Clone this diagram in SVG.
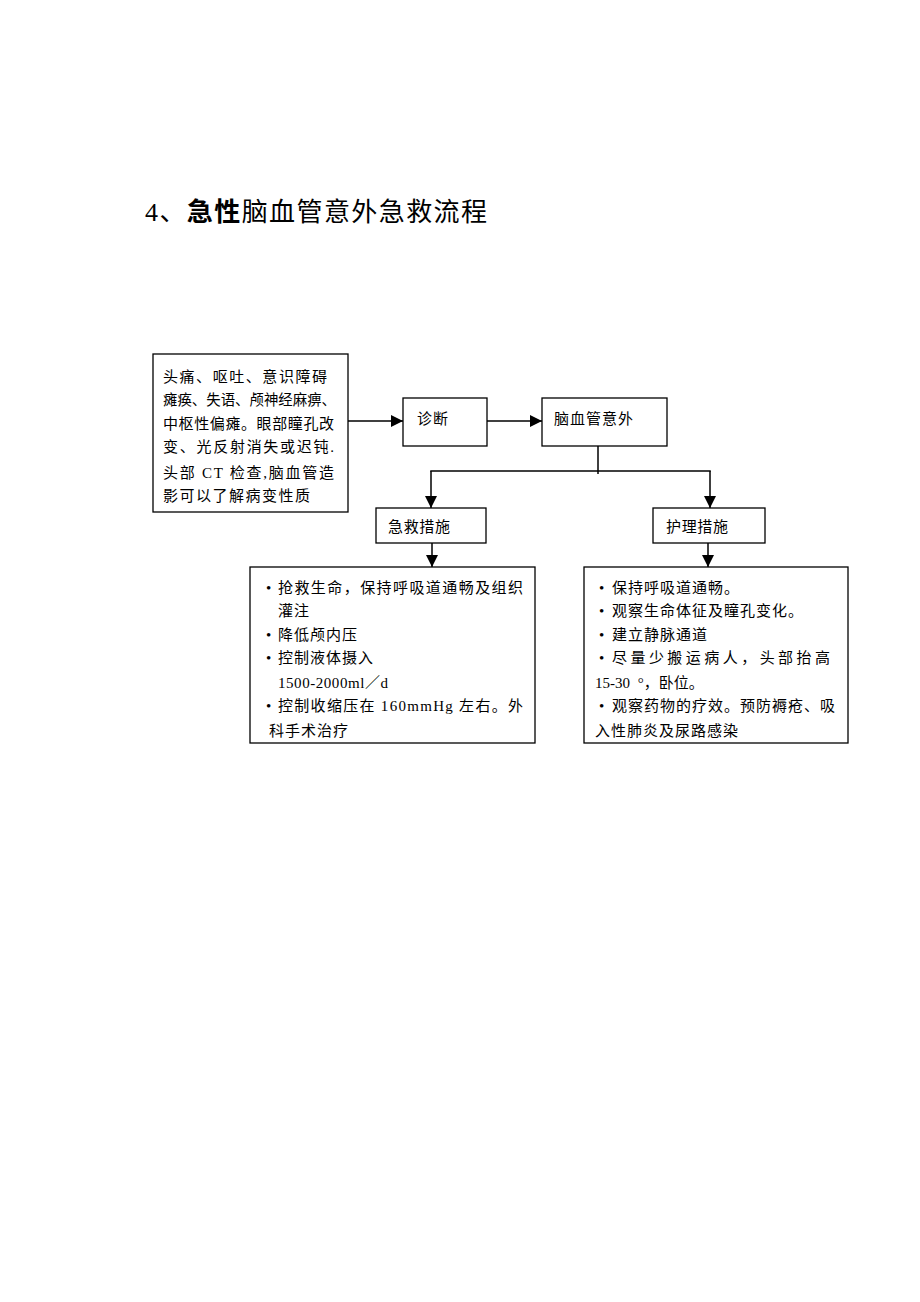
<svg xmlns="http://www.w3.org/2000/svg" width="920" height="1302" viewBox="0 0 920 1302">
<defs>
<style>
.box{fill:#fff;stroke:#000;stroke-width:1.3}
.t{font-family:"Liberation Serif","Noto Sans CJK SC",serif;font-size:15px;fill:#000}
.title{font-family:"Liberation Serif","Noto Sans CJK SC",serif;font-size:26px;fill:#000}
.c{fill:none;stroke:#000;stroke-width:1.5}
</style>
<marker id="ah" markerUnits="userSpaceOnUse" markerWidth="12" markerHeight="12" viewBox="0 0 10 10" refX="10" refY="5" orient="auto">
<path d="M0,0 L10,5 L0,10 Z" fill="#000"/>
</marker>
</defs>
<rect width="920" height="1302" fill="#fff"/>
<text class="title" x="145" y="221" textLength="342" lengthAdjust="spacing">4、<tspan font-weight="bold">急性</tspan>脑血管意外急救流程</text>

<g id="symptoms">
<rect class="box" x="153" y="354" width="195" height="158"/>
<text class="t" x="163" y="382" textLength="164" lengthAdjust="spacing">头痛、呕吐、意识障碍</text>
<text class="t" x="163" y="405" textLength="173" lengthAdjust="spacingAndGlyphs">瘫痪、失语、颅神经麻痹、</text>
<text class="t" x="163" y="429" textLength="171" lengthAdjust="spacing">中枢性偏瘫。眼部瞳孔改</text>
<text class="t" x="163" y="452" textLength="171" lengthAdjust="spacing">变、光反射消失或迟钝.</text>
<text class="t" x="163" y="478" textLength="171" lengthAdjust="spacing">头部 CT 检查,脑血管造</text>
<text class="t" x="163" y="501" textLength="147" lengthAdjust="spacing">影可以了解病变性质</text>
</g>

<g id="diagnosis">
<rect class="box" x="403" y="398" width="84" height="48"/>
<text class="t" x="417" y="424" letter-spacing="1">诊断</text>
</g>

<g id="cva">
<rect class="box" x="542" y="398" width="125" height="48"/>
<text class="t" x="554" y="424" textLength="79" lengthAdjust="spacing">脑血管意外</text>
</g>

<g id="emergency">
<rect class="box" x="376" y="508" width="110" height="35"/>
<text class="t" x="388" y="532" textLength="62" lengthAdjust="spacing">急救措施</text>
</g>

<g id="nursing">
<rect class="box" x="653" y="508" width="112" height="35"/>
<text class="t" x="666" y="532" textLength="62" lengthAdjust="spacing">护理措施</text>
</g>

<g id="emergency-list">
<rect class="box" x="250" y="567" width="285" height="176"/>
<text class="t" x="266" y="593">•</text>
<text class="t" x="278" y="593" textLength="245" lengthAdjust="spacing">抢救生命，保持呼吸道通畅及组织</text>
<text class="t" x="278" y="616" letter-spacing="1">灌注</text>
<text class="t" x="266" y="640">•</text>
<text class="t" x="278" y="640" letter-spacing="1">降低颅内压</text>
<text class="t" x="266" y="663">•</text>
<text class="t" x="278" y="663" letter-spacing="1">控制液体摄入</text>
<text class="t" x="278" y="688" textLength="110" lengthAdjust="spacing">1500-2000ml／d</text>
<text class="t" x="266" y="711">•</text>
<text class="t" x="278" y="711" textLength="245" lengthAdjust="spacing">控制收缩压在 160mmHg 左右。外</text>
<text class="t" x="269" y="736" letter-spacing="1">科手术治疗</text>
</g>

<g id="nursing-list">
<rect class="box" x="584" y="567" width="264" height="176"/>
<text class="t" x="599" y="593">•</text>
<text class="t" x="612" y="593" letter-spacing="1">保持呼吸道通畅。</text>
<text class="t" x="599" y="616">•</text>
<text class="t" x="612" y="616" letter-spacing="1">观察生命体征及瞳孔变化。</text>
<text class="t" x="599" y="640">•</text>
<text class="t" x="612" y="640" letter-spacing="1">建立静脉通道</text>
<text class="t" x="599" y="663">•</text>
<text class="t" x="612" y="663" textLength="218" lengthAdjust="spacing">尽量少搬运病人，头部抬高</text>
<text class="t" x="595" y="688">15-30 <tspan dx="4">°，卧位。</tspan></text>
<text class="t" x="599" y="711">•</text>
<text class="t" x="612" y="711" textLength="223" lengthAdjust="spacing">观察药物的疗效。预防褥疮、吸</text>
<text class="t" x="595" y="736" letter-spacing="1">入性肺炎及尿路感染</text>
</g>

<g id="connectors">
<line class="c" x1="348" y1="421" x2="403" y2="421" marker-end="url(#ah)"/>
<line class="c" x1="487" y1="421" x2="542" y2="421" marker-end="url(#ah)"/>
<line class="c" x1="598" y1="446" x2="598" y2="474"/>
<line class="c" x1="430.25" y1="471" x2="710.75" y2="471"/>
<line class="c" x1="431" y1="471" x2="431" y2="508" marker-end="url(#ah)"/>
<line class="c" x1="710" y1="471" x2="710" y2="508" marker-end="url(#ah)"/>
<line class="c" x1="432" y1="543" x2="432" y2="567" marker-end="url(#ah)"/>
<line class="c" x1="708" y1="543" x2="708" y2="567" marker-end="url(#ah)"/>
</g>
</svg>
